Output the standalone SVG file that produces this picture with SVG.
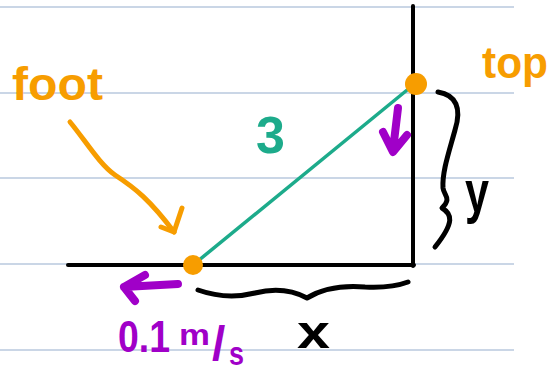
<svg xmlns="http://www.w3.org/2000/svg" width="554" height="372" viewBox="0 0 554 372">
<defs>
<style>
.rule{stroke:#b8c8de;stroke-width:1.5;fill:none}
.ink{fill:none;stroke-linecap:round;stroke-linejoin:round}
.blk{stroke:#000}
.org{stroke:#f79d00}
.pur{stroke:#a000c8}
.grn{stroke:#1dab8b}
.hand{font-family:"Liberation Sans",Arial,sans-serif;font-weight:bold}
</style>
</defs>
<rect width="554" height="372" fill="#fff"/>
<g id="paper">
<line class="rule" x1="0" y1="7" x2="514" y2="7"/>
<line class="rule" x1="0" y1="93" x2="514" y2="93"/>
<line class="rule" x1="0" y1="178" x2="514" y2="178"/>
<line class="rule" x1="0" y1="264" x2="514" y2="264"/>
<line class="rule" x1="0" y1="350" x2="514" y2="350"/>
</g>
<g id="wall-floor">
<line class="ink blk" x1="413" y1="6" x2="413" y2="266" stroke-width="4"/>
<line class="ink blk" x1="68" y1="265" x2="414" y2="265" stroke-width="4"/>
</g>
<g id="connectors">
<line class="ink grn" x1="193" y1="265" x2="412" y2="86" stroke-width="3.5"/>
<path class="ink org" d="M70,122 C85,140 100,165 115,175 C135,188 150,200 174,232" stroke-width="5"/>
<path class="ink org" d="M161,227 L174,232 L182,208" stroke-width="5"/>
<path class="ink pur" d="M398,108 L393,150 M383,132 L393,152 L407,135" stroke-width="8"/>
<path class="ink pur" d="M178,284 L124,287 M145,275 L124,287 L135,301" stroke-width="8"/>
<path class="ink blk" d="M198,290 C215,296 235,298 255,293 C275,288 292,290 307,298 C320,290 340,285 365,287 C385,288 400,285 408,282" stroke-width="5"/>
<path class="ink blk" d="M438,92 C456,95 462,108 455,130 C449,152 442,172 443,188 C444,196 452,198 442,208 C452,214 455,222 435,247" stroke-width="5"/>
</g>
<g id="foot">
<circle cx="193" cy="265" r="10" fill="#f79d00"/>
<text class="hand" x="12" y="100" font-size="46" fill="#f79d00" textLength="91" lengthAdjust="spacingAndGlyphs">foot</text>
</g>
<g id="top">
<circle cx="416" cy="84" r="11" fill="#f79d00"/>
<text class="hand" x="482" y="78" font-size="44" fill="#f79d00" textLength="66" lengthAdjust="spacingAndGlyphs">top</text>
</g>
<g id="ladder-label">
<text class="hand" x="256" y="153" font-size="52" fill="#1dab8b">3</text>
</g>
<g id="y-label">
<text class="hand" x="465" y="212" font-size="60" fill="#000" textLength="24" lengthAdjust="spacingAndGlyphs">y</text>
</g>
<g id="x-label">
<text class="hand" x="297" y="348" font-size="46" fill="#000" textLength="33" lengthAdjust="spacingAndGlyphs">x</text>
</g>
<g id="speed-label" class="hand" fill="#a000c8">
<text x="118" y="352" font-size="44" textLength="52" lengthAdjust="spacingAndGlyphs">0.1</text>
<text x="179" y="345" font-size="30" textLength="31" lengthAdjust="spacingAndGlyphs">m</text>
<text x="212" y="360" font-size="48">/</text>
<text x="229" y="365" font-size="34" textLength="15" lengthAdjust="spacingAndGlyphs">s</text>
</g>
</svg>
